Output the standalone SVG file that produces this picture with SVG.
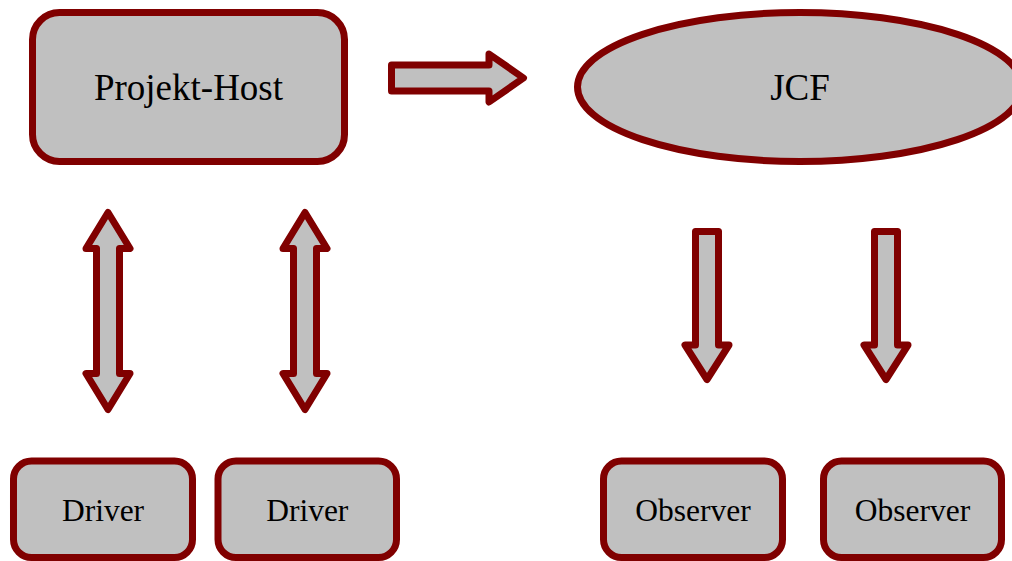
<svg xmlns="http://www.w3.org/2000/svg" width="1012" height="561" viewBox="0 0 1012 561">
<style>
.shape{fill:#C0C0C0;stroke:#800000;stroke-width:7;stroke-linejoin:round}
.lbl{font-family:"Liberation Serif","Times New Roman",serif;fill:#000;text-anchor:middle}
.big{font-size:37px}
.small{font-size:31.5px}
</style>
<rect width="1012" height="561" fill="#fff"/>
<g id="projekt-host">
<rect class="shape" x="32.5" y="12.5" width="312" height="149" rx="27" ry="27"/>
<text class="lbl big" x="188.5" y="100">Projekt-Host</text>
</g>
<g id="jcf">
<ellipse class="shape" cx="800" cy="87" rx="222.5" ry="74.5"/>
<text class="lbl big" x="800" y="100">JCF</text>
</g>
<g id="driver1">
<rect class="shape" x="13.5" y="461" width="179" height="96.5" rx="18" ry="18"/>
<text class="lbl small" x="103" y="521">Driver</text>
</g>
<g id="driver2">
<rect class="shape" x="218" y="461" width="178.5" height="96.5" rx="18" ry="18"/>
<text class="lbl small" x="307.25" y="521">Driver</text>
</g>
<g id="observer1">
<rect class="shape" x="603.5" y="461" width="179" height="96.5" rx="18" ry="18"/>
<text class="lbl small" x="693" y="521">Observer</text>
</g>
<g id="observer2">
<rect class="shape" x="823.5" y="461" width="178" height="96.5" rx="18" ry="18"/>
<text class="lbl small" x="912.5" y="521">Observer</text>
</g>
<g id="connectors">
<path class="shape" d="M391.5,65 H489 V54 L523.5,78 L489,102 V91 H391.5 Z"/>
<path class="shape" d="M108,212.5 L130,248.5 H119.5 V373.5 H130 L108,409.5 L86,373.5 H96.5 V248.5 H86 Z"/>
<path class="shape" d="M305,212.5 L327,248.5 H316.5 V373.5 H327 L305,409.5 L283,373.5 H293.5 V248.5 H283 Z"/>
<path class="shape" d="M695.5,231.5 H718.5 V345 H729 L707,379.5 L685,345 H695.5 Z"/>
<path class="shape" d="M874.5,231.5 H897.5 V345 H908 L886,379.5 L864,345 H874.5 Z"/>
</g>
</svg>
